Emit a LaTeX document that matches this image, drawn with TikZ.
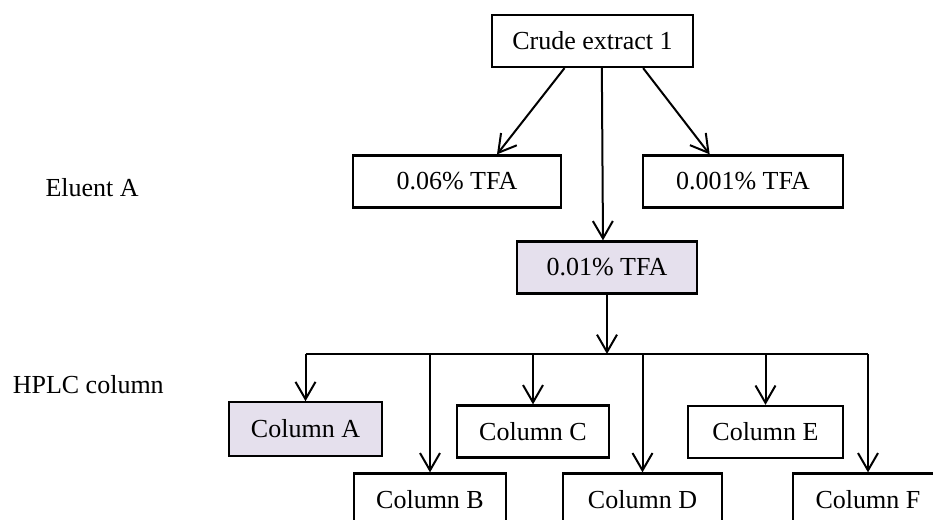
\documentclass[tikz,border=0pt]{standalone}
\usepackage{fontspec}
\setmainfont{Liberation Serif}
\usepackage{tikz}
\usetikzlibrary{arrows.meta,positioning,calc}

\definecolor{selfill}{RGB}{229,224,237}

\begin{document}
\begin{tikzpicture}[x=0.75pt,y=-0.75pt,font=\fontsize{19.5}{23}\selectfont,
    box/.style={draw, line width=1.7pt, inner sep=0pt, minimum height=39pt},
    sel/.style={box, fill=selfill},
    arr/.style={line width=1.5pt, -{Straight Barb[length=13pt,width=15pt,line width=1.5pt]}}]
    \useasboundingbox (0,0) rectangle (933,520);
    \clip (0,0) rectangle (933,520);
    % row labels
    \node[anchor=base east, inner sep=0pt] (eluent) at (139,197) {Eluent A};
    \node[anchor=base east, inner sep=0pt] (hplc) at (164,394) {HPLC column};
    % eluent choice
    \node[box, minimum width=151pt] (crude) at (592.5,41) {Crude extract 1};
    \node[box, minimum width=156pt] (tfa06) at (457,181.5) {0.06\% TFA};
    \node[box, minimum width=150pt] (tfa001) at (743,181.5) {0.001\% TFA};
    \node[sel, minimum width=135pt] (tfa01) at (607,267.5) {0.01\% TFA};
    \draw[arr] ([xshift=-21pt]crude.south) -- ([xshift=30pt]tfa06.north);
    \draw[arr] ([xshift=38pt]crude.south) -- ([xshift=-25pt]tfa001.north);
    \draw[arr] ([xshift=7pt]crude.south) -- ([xshift=-3pt]tfa01.north);
    % columns
    \node[sel, minimum width=115pt, minimum height=40pt] (colA) at (305.5,429) {Column A};
    \node[box, minimum width=114pt] (colB) at (430,499.5) {Column B};
    \node[box, minimum width=114pt] (colC) at (533,431.5) {Column C};
    \node[box, minimum width=119pt] (colD) at (642.5,499.5) {Column D};
    \node[box, minimum width=116pt] (colE) at (765.5,432) {Column E};
    \node[box, minimum width=112pt] (colF) at (868,499.5) {Column F};
    \coordinate (bus) at (607,354);
    \draw[arr] (tfa01.south) -- (bus);
    \draw[line width=1.5pt] (colA.north |- bus) -- (colF.north |- bus);
    \foreach \c in {colA,colB,colC,colD,colE,colF}
        \draw[arr] (\c.north |- bus) -- (\c.north);
\end{tikzpicture}
\end{document}
